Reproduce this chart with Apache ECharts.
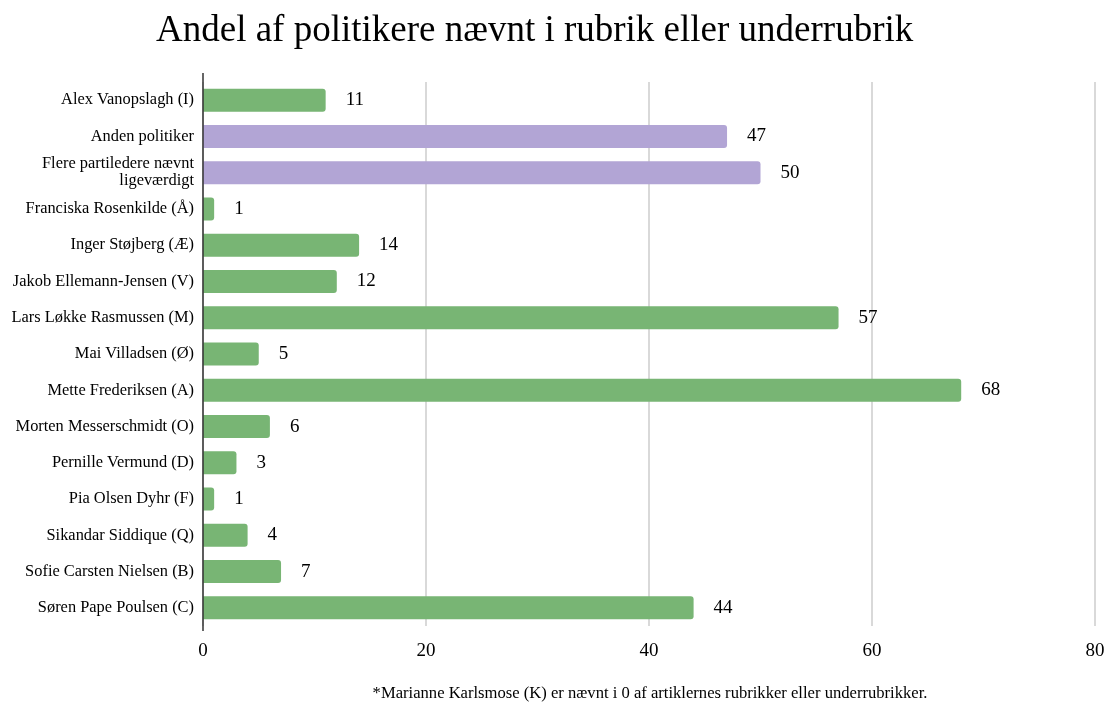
<!DOCTYPE html>
<html>
<head>
<meta charset="utf-8">
<script src="https://cdn.jsdelivr.net/npm/echarts@6/dist/echarts.min.js"></script>
<style>
  html, body { margin: 0; padding: 0; background: #fff; }
  #chart { width: 1109px; height: 702px; }
</style>
</head>
<body>
<div id="chart"></div>
<script>
// kategorier og værdier
var names = [
  'Alex Vanopslagh (I)',
  'Anden politiker',
  'Flere partiledere nævnt\nligeværdigt',
  'Franciska Rosenkilde (Å)',
  'Inger Støjberg (Æ)',
  'Jakob Ellemann-Jensen (V)',
  'Lars Løkke Rasmussen (M)',
  'Mai Villadsen (Ø)',
  'Mette Frederiksen (A)',
  'Morten Messerschmidt (O)',
  'Pernille Vermund (D)',
  'Pia Olsen Dyhr (F)',
  'Sikandar Siddique (Q)',
  'Sofie Carsten Nielsen (B)',
  'Søren Pape Poulsen (C)'
];
var values = [11, 47, 50, 1, 14, 12, 57, 5, 68, 6, 3, 1, 4, 7, 44];
// hvilke rækker er ikke en partileder
var isOther = [false, true, true, false, false, false, false, false, false, false, false, false, false, false, false];
var xTicks = [0, 20, 40, 60, 80];

var green = '#78b574';
var purple = '#b2a5d5';
var serif = '"Liberation Serif", "DejaVu Serif", serif';

var chart = echarts.init(document.getElementById('chart'));

var barData = values.map(function (v, i) {
  return {
    value: v,
    itemStyle: { color: isOther[i] ? purple : green }
  };
});

chart.setOption({
  animation: false,
  title: {
    text: 'Andel af politikere nævnt i rubrik eller underrubrik',
    left: 151,
    top: 8,
    textStyle: {
      fontFamily: serif,
      fontWeight: 'normal',
      fontSize: 37,
      color: '#000'
    }
  },
  grid: {
    left: 203,
    right: 14,
    top: 82,
    height: 544,
    containLabel: false
  },
  xAxis: {
    type: 'value',
    min: xTicks[0],
    max: xTicks[xTicks.length - 1],
    interval: 20,
    axisLine: { show: false },
    axisTick: { show: false },
    splitLine: {
      show: true,
      lineStyle: { color: '#cccccc', width: 1.5 }
    },
    axisLabel: {
      margin: 16,
      fontFamily: serif,
      fontSize: 19,
      color: '#000'
    }
  },
  yAxis: {
    type: 'category',
    inverse: true,
    data: names,
    axisLine: { show: false },
    axisTick: { show: false },
    axisLabel: {
      margin: 9,
      fontFamily: serif,
      fontSize: 16.4,
      lineHeight: 17,
      color: '#000'
    }
  },
  series: [
    {
      type: 'bar',
      data: barData,
      barWidth: 23,
      itemStyle: { borderRadius: [0, 3, 3, 0] },
      label: {
        show: true,
        position: 'right',
        distance: 20,
        fontFamily: serif,
        fontSize: 19,
        color: '#000'
      }
    }
  ],
  graphic: [
    {
      // y-aksens linje rækker lidt ud over plotområdet
      type: 'line',
      shape: { x1: 203, y1: 73, x2: 203, y2: 631 },
      style: { stroke: '#333', lineWidth: 1.5 },
      z: 10
    },
    {
      type: 'text',
      x: 650,
      y: 685,
      style: {
        text: '*Marianne Karlsmose (K) er nævnt i 0 af artiklernes rubrikker eller underrubrikker.',
        fontFamily: serif,
        fontSize: 16.6,
        textAlign: 'center',
        fill: '#000'
      }
    }
  ]
});
</script>
</body>
</html>
